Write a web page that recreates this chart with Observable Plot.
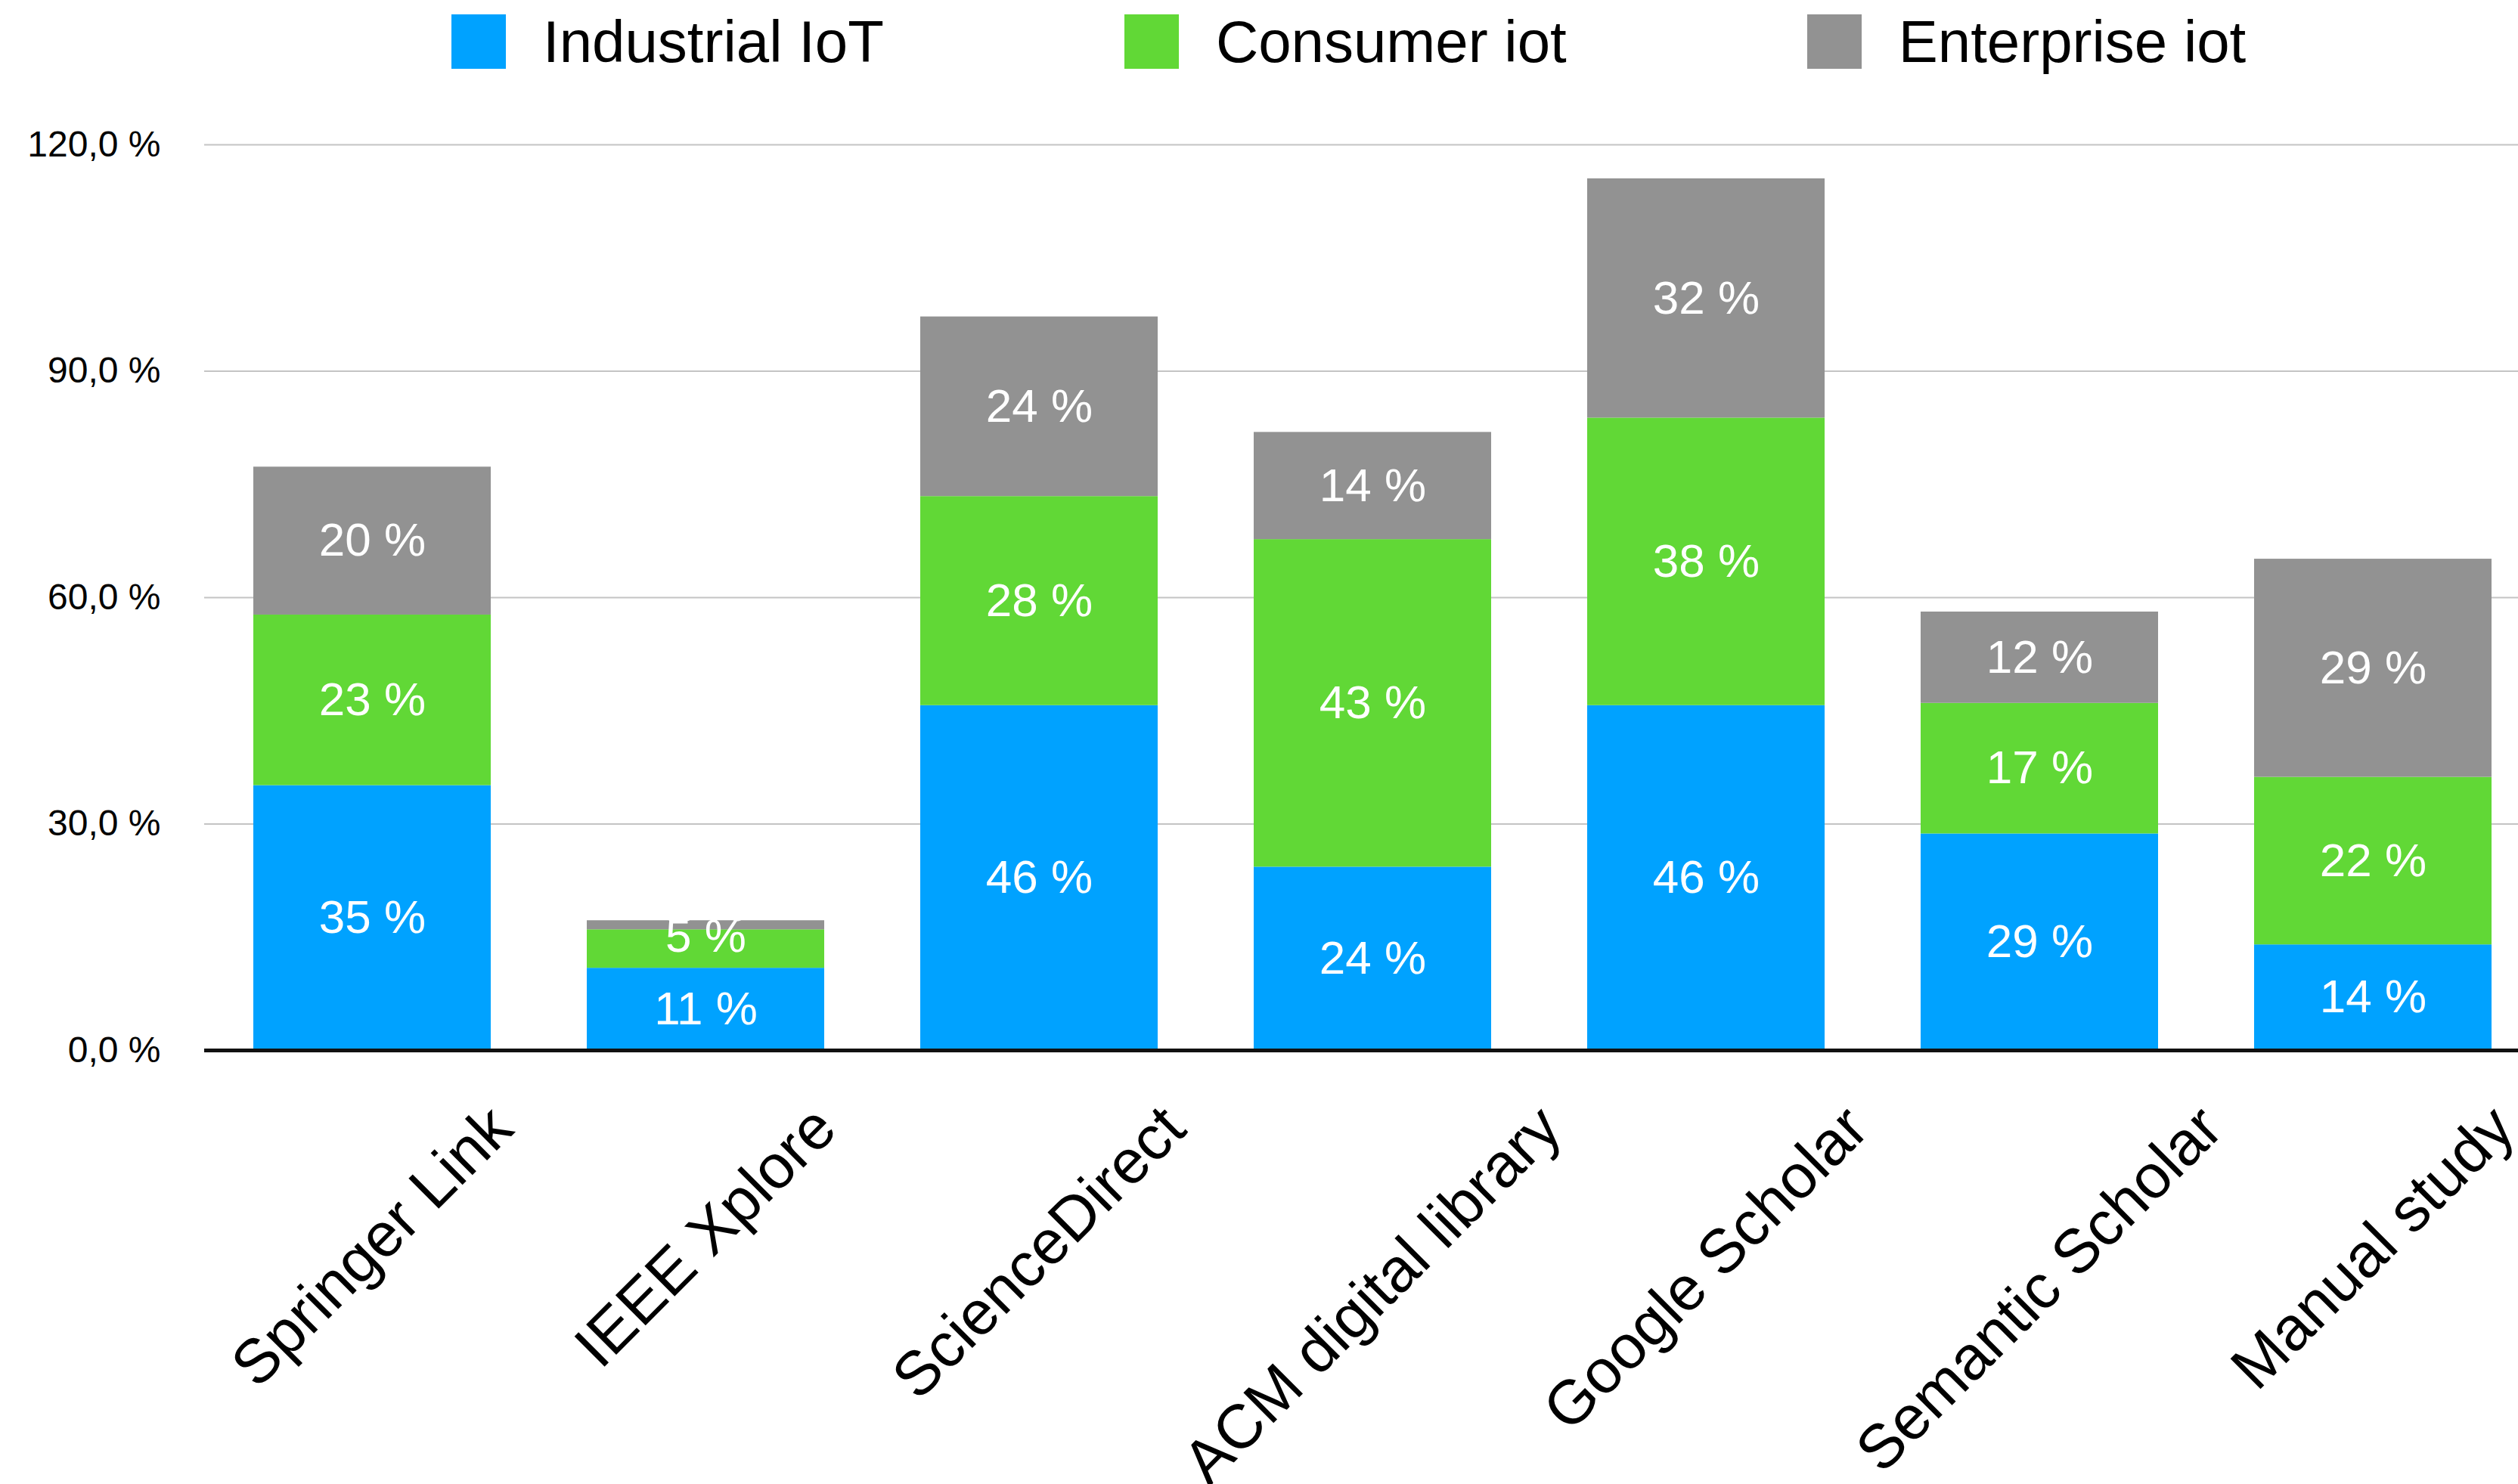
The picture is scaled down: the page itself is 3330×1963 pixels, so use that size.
<!DOCTYPE html>
<html>
<head>
<meta charset="utf-8">
<script src="https://cdn.jsdelivr.net/npm/d3@7"></script>
<script src="https://cdn.jsdelivr.net/npm/@observablehq/plot@0.6"></script>
<style>
  html, body { margin: 0; padding: 0; background: #fff; overflow: hidden; }
  body { width: 3330px; height: 1963px; font-family: "Liberation Sans", Arial, Helvetica, sans-serif; }
  #legend { height: 110px; display: flex; align-items: center; padding-left: 597px; gap: 318px; box-sizing: border-box; }
  .item { display: flex; align-items: center; gap: 49px; font-size: 78px; color: #000; white-space: nowrap; }
  .sw { width: 72px; height: 72px; display: inline-block; }
  #chart svg { display: block; }
</style>
</head>
<body>
<div id="legend"></div>
<div id="chart"></div>
<script>
const sources = ["Springer Link", "IEEE Xplore", "ScienceDirect", "ACM digital library", "Google Scholar", "Semantic Scholar", "Manual study"];
const series = ["Industrial IoT", "Consumer iot", "Enterprise iot"];
const industrial = [35.1, 10.9, 45.7, 24.3, 45.7, 28.7, 14.0];
const consumer   = [22.6, 5.1, 27.7, 43.4, 38.1, 17.3, 22.2];
const enterprise = [19.6, 1.2, 23.8, 14.2, 31.7, 12.1, 28.9];
const yTicks = [0, 30, 60, 90, 120];
const colors = ["#00A2FF", "#61D836", "#929292"];

const seriesValues = [industrial, consumer, enterprise];
const FONT = '"Liberation Sans", Arial, Helvetica, sans-serif';

// Build stacked segments
const segs = [];
const labels = [];
sources.forEach((src, i) => {
  let base = 0;
  const stack = series.map((s, k) => {
    const v = seriesValues[k][i];
    const seg = {source: src, series: s, y1: base, y2: base + v, value: v};
    base += v;
    segs.push(seg);
    return seg;
  });
  // place labels, dodging tiny segments (top-down)
  let prev = null;
  for (let k = stack.length - 1; k >= 0; k--) {
    const s = stack[k];
    const h = s.y2 - s.y1;
    let ly;
    if (h < 6) ly = prev != null ? prev - 4.1 : s.y2 + 2.0;
    else ly = (s.y1 + s.y2) / 2;
    prev = ly;
    labels.push({source: src, ly, text: Math.round(s.value) + " %"});
  }
});

// Legend
const legend = document.getElementById("legend");
series.forEach((s, k) => {
  const it = document.createElement("div");
  it.className = "item";
  const sw = document.createElement("span");
  sw.className = "sw";
  sw.style.background = colors[k];
  const t = document.createElement("span");
  t.textContent = s;
  it.appendChild(sw); it.appendChild(t);
  legend.appendChild(it);
});

const fmt = v => v.toFixed(1).replace(".", ",") + " %";

// Rotated category labels: bbox centred on band, top of bbox at fixed offset below axis
const XF = 82;
const ctx = document.createElement("canvas").getContext("2d");
ctx.font = `${XF}px ${FONT}`;
const xLabelMarks = sources.map(s => {
  const w = ctx.measureText(s).width;
  const half = (w + 0.93 * XF) * Math.SQRT1_2 / 2;
  return Plot.text([s], {x: d => d, frameAnchor: "bottom", rotate: -45, textAnchor: "middle", lineAnchor: "middle",
    dy: 62 + half, fontSize: XF, fill: "#000"});
});

const plot = Plot.plot({
  width: 3330,
  height: 1853,
  marginLeft: 270,
  marginRight: 0,
  marginTop: 81,
  marginBottom: 574,
  style: {fontFamily: FONT, fontSize: "48px", color: "#000", background: "#fff", overflow: "hidden"},
  x: {domain: sources, range: [270, 3360], paddingInner: 0.288, paddingOuter: 0.144, axis: null},
  y: {domain: [0, 120], axis: null},
  color: {domain: series, range: colors},
  marks: [
    Plot.ruleY(yTicks.filter(d => d !== 0), {stroke: "#c4c4c4", strokeWidth: 2}),
    Plot.barY(segs, {x: "source", y1: "y1", y2: "y2", fill: "series"}),
    Plot.ruleY([0], {stroke: "#111", strokeWidth: 5}),
    Plot.text(labels, {x: "source", y: "ly", text: "text", fill: "white", fontSize: 62, lineAnchor: "middle"}),
    Plot.axisY({ticks: yTicks, tickSize: 0, tickPadding: 58, fontSize: 48, tickFormat: fmt, label: null}),
    ...xLabelMarks
  ]
});
document.getElementById("chart").appendChild(plot);
</script>
</body>
</html>
